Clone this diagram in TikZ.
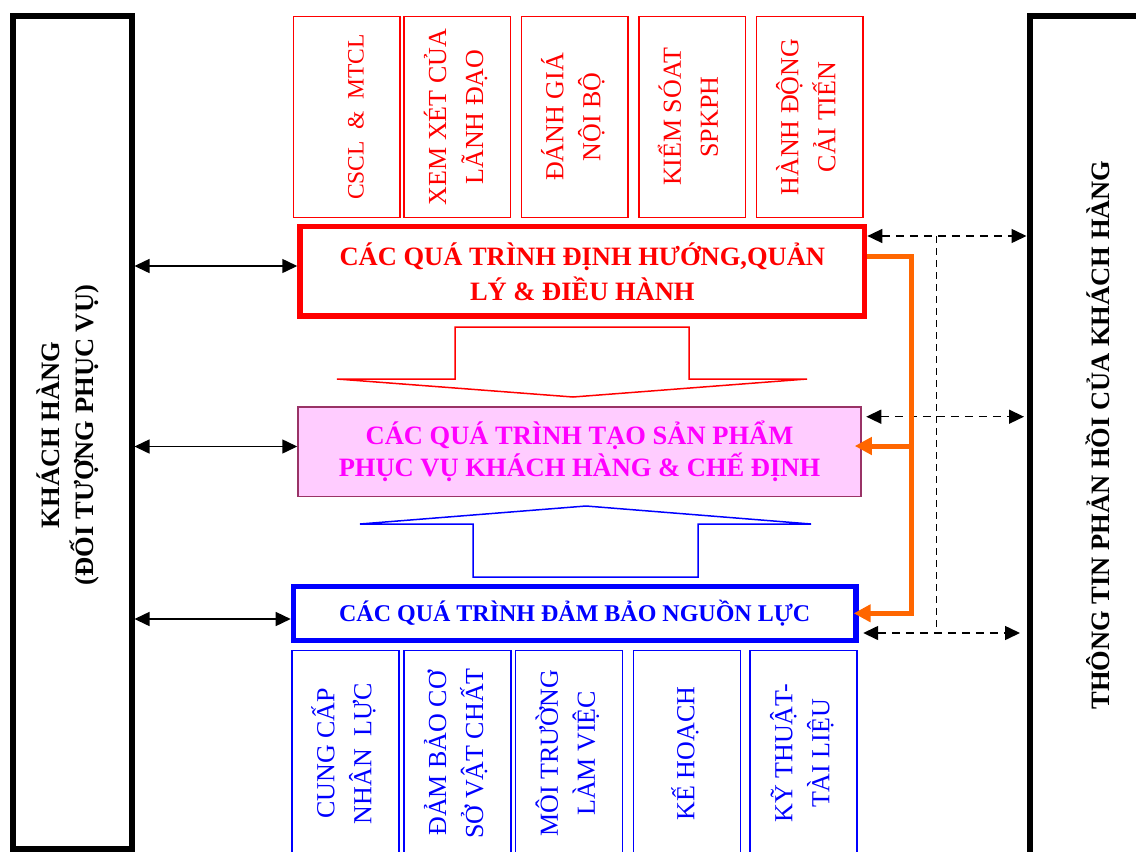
\documentclass[tikz,border=0pt]{standalone}
\usepackage{fontspec}
\setmainfont{Liberation Serif}
\usetikzlibrary{arrows.meta,calc}
\definecolor{cred}{RGB}{255,0,0}
\definecolor{cblue}{RGB}{0,0,255}
\definecolor{cmag}{RGB}{255,0,255}
\definecolor{cpink}{RGB}{255,204,255}
\definecolor{cplum}{RGB}{153,51,102}
\definecolor{corange}{RGB}{255,102,0}
\newcommand{\vtext}[1]{\rotatebox{90}{\begin{tabular}{@{}c@{}}#1\end{tabular}}}
\begin{document}
\begin{tikzpicture}[x=1pt,y=-1pt,
  sidebox/.style={draw=black,line width=6pt,inner sep=0pt},
  sidetext/.style={font=\fontsize{26.5}{34}\selectfont\bfseries,inner sep=0pt},
  redsmall/.style={draw=cred,line width=1.5pt,inner sep=0pt,minimum width=106.5pt,minimum height=201pt,text=cred,font=\fontsize{26}{37}\selectfont},
  bluesmall/.style={draw=cblue,line width=1.5pt,inner sep=0pt,minimum width=107pt,minimum height=206pt,text=cblue,font=\fontsize{26}{37}\selectfont},
  bigred/.style={draw=cred,line width=5.5pt,inner sep=0pt,minimum width=564.6pt,minimum height=89.3pt,text=cred,align=center,font=\fontsize{26.5}{35}\selectfont\bfseries},
  bigpink/.style={draw=cplum,fill=cpink,line width=1.5pt,inner sep=0pt,minimum width=563pt,minimum height=89.5pt,text=cmag,align=center,font=\fontsize{26.5}{32}\selectfont\bfseries},
  bigblue/.style={draw=cblue,line width=5.5pt,inner sep=0pt,minimum width=562.5pt,minimum height=53.6pt,text=cblue,align=center,font=\fontsize{24}{30}\selectfont\bfseries},
  biarrow/.style={{Triangle[length=15pt,width=14pt]}-{Triangle[length=15pt,width=14pt]},line width=1.5pt,draw=black},
  dasharrow/.style={biarrow,dash pattern=on 8pt off 6pt},
  dashline/.style={draw=black,line width=1.5pt,dash pattern=on 7pt off 5pt},
  oline/.style={draw=corange,line width=5pt,-{Triangle[length=17pt,width=17pt]}},
  blockred/.style={draw=cred,line width=1.5pt},
  blockblue/.style={draw=cblue,line width=1.5pt}
]
\useasboundingbox (0,0) rectangle (1136,852);
\clip (0,0) rectangle (1136,852);

% side boxes
\node[sidebox,minimum width=118.5pt,minimum height=832.7pt] (cust) at (72.25,432.6) {};
\node[sidetext] (custtext) at (70,435) {\vtext{KHÁCH HÀNG\\(ĐỐI TƯỢNG PHỤC VỤ)}};
\node[sidebox,minimum width=120.5pt,minimum height=853.7pt] (fb) at (1089.75,443.15) {};
\node[sidetext] (fbtext) at (1098,435) {\rotatebox{90}{THÔNG TIN PHẢN HỒI CỦA KHÁCH HÀNG}};

% top red boxes
\node[redsmall] (t1) at (346.8,117) {\rotatebox{90}{\raisebox{-9pt}[\height][\depth]{\fontsize{23.5}{37}\selectfont CSCL \ \& \ MTCL}}};
\node[redsmall] (t2) at (457.3,117) {\vtext{XEM XÉT CỦA\\LÃNH ĐẠO}};
\node[redsmall] (t3) at (574.5,117) {\vtext{ĐÁNH GIÁ\\NỘI BỘ}};
\node[redsmall] (t4) at (692,117) {\vtext{KIỂM SÓAT\\SPKPH}};
\node[redsmall] (t5) at (809.5,117) {\vtext{HÀNH ĐỘNG\\CẢI TIẾN}};

% main process boxes
\node[bigred] (red) at (582.3,271.3) {CÁC QUÁ TRÌNH ĐỊNH HƯỚNG,QUẢN\\LÝ \& ĐIỀU HÀNH};
\node[bigpink] (pink) at (579.5,451.5) {CÁC QUÁ TRÌNH TẠO SẢN PHẨM\\PHỤC VỤ KHÁCH HÀNG \& CHẾ ĐỊNH};
\node[bigblue] (blue) at (574.7,613.5) {CÁC QUÁ TRÌNH ĐẢM BẢO NGUỒN LỰC};

% bottom blue boxes
\node[bluesmall] (b1) at (345.5,753.4) {\vtext{CUNG CẤP\\NHÂN\ \ LỰC}};
\node[bluesmall] (b2) at (457.25,753.4) {\vtext{ĐẢM BẢO CƠ\\SỞ VẬT CHẤT}};
\node[bluesmall] (b3) at (569,753.4) {\vtext{MÔI TRƯỜNG\\LÀM VIỆC}};
\node[bluesmall] (b4) at (687,753.4) {\vtext{KẾ HOẠCH}};
\node[bluesmall] (b5) at (803.5,753.4) {\vtext{KỸ THUẬT-\\TÀI LIỆU}};

% block arrows
\draw[blockred] (455,327) -- (689,327) -- (689,379) -- (807,379) -- (573,397) -- (337,379) -- (455,379) -- cycle;
\draw[blockblue] (473,577) -- (698,577) -- (698,524) -- (811,524) -- (586,506) -- (360,524) -- (473,524) -- cycle;

% left arrows
\coordinate (y1) at (0,266);
\coordinate (y2) at (0,446.5);
\coordinate (y3) at (0,619);
\draw[biarrow] (cust.east |- y1) -- (red.west |- y1);
\draw[biarrow] (cust.east |- y2) -- (pink.west |- y2);
\draw[biarrow] (cust.east |- y3) -- (blue.west |- y3);

% right dashed arrows
\coordinate (d1) at (936.7,236);
\coordinate (d2) at (936.7,416.7);
\coordinate (d3) at (936.7,633);
\draw[dasharrow] (red.east |- d1) -- (fb.west |- d1);
\draw[dasharrow,shorten <=4.5pt,shorten >=2.5pt] (pink.east |- d2) -- (fb.west |- d2);
\draw[dasharrow,shorten <=4.5pt,shorten >=6.5pt] (blue.east |- d3) -- (fb.west |- d3);
\draw[dashline] (d1) -- (d3);

% orange feedback
\coordinate (o1) at (911,256);
\coordinate (o2) at (911,613.3);
\coordinate (o3) at (911,446);
\draw[oline,shorten >=-5pt] (red.east |- o1) -- (o1) -- (o2) -- (blue.east |- o2);
\draw[oline,shorten >=-7pt] (o3) -- (pink.east |- o3);
\end{tikzpicture}
\end{document}
